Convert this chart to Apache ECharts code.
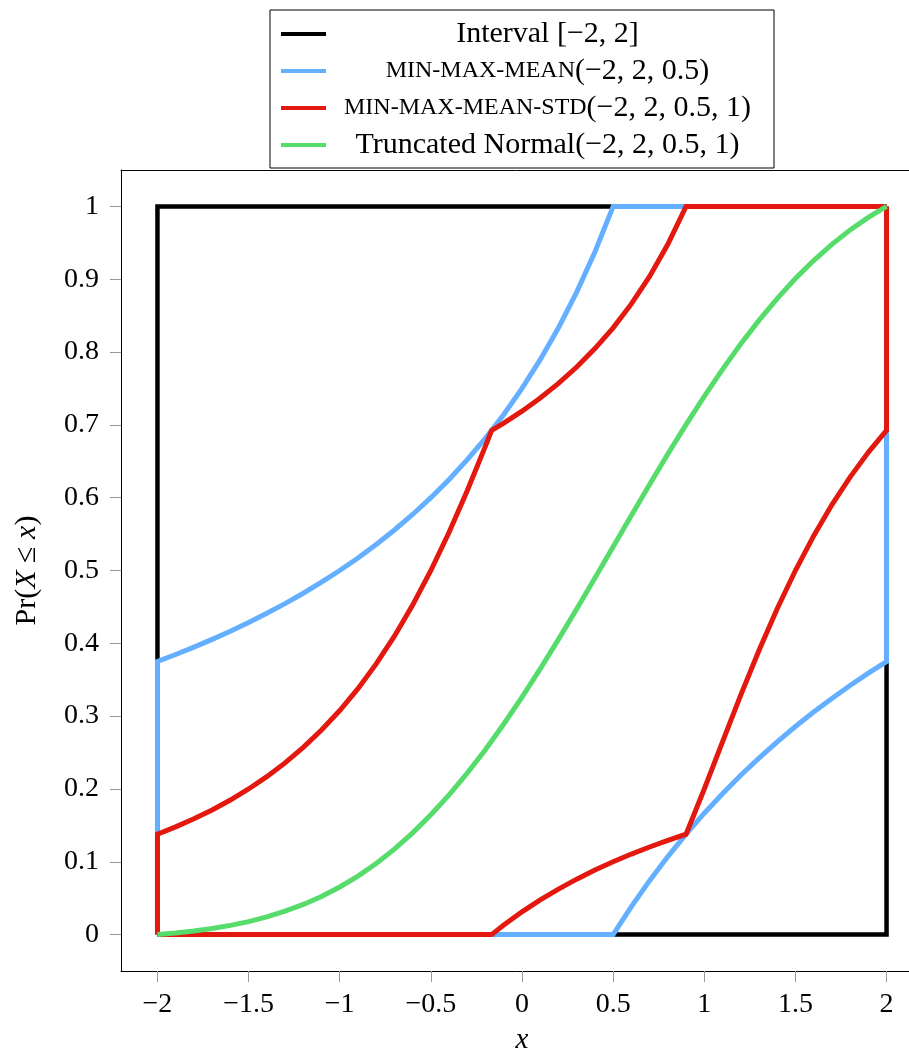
<!DOCTYPE html>
<html>
<head>
<meta charset="utf-8">
<script src="https://cdn.jsdelivr.net/npm/echarts@6/dist/echarts.min.js"></script>
<style>
  html, body { margin: 0; padding: 0; background: #fff; }
  #main { width: 909px; height: 1049px; }
</style>
</head>
<body>
<div id="main"></div>
<script>
// tick positions
var xTicks = [-2, -1.5, -1, -0.5, 0, 0.5, 1, 1.5, 2];
var yTicks = [0, 0.1, 0.2, 0.3, 0.4, 0.5, 0.6, 0.7, 0.8, 0.9, 1];

// Interval [-2, 2] (upper / lower CDF bounds)
var intervalUpper = [[-2, 0], [-2, 1], [2, 1]];
var intervalLower = [[-2, 0], [2, 0], [2, 1]];

// min-max-mean(-2, 2, 0.5)
var mmmUpper = [
    [-2, 0], [-2, 0.375], [-1.9, 0.3846], [-1.8, 0.3947], [-1.7, 0.4054], [-1.6, 0.4167],
    [-1.5, 0.4286], [-1.4, 0.4412], [-1.3, 0.4545], [-1.2, 0.4688], [-1.1, 0.4839],
    [-1, 0.5], [-0.9, 0.5172], [-0.8, 0.5357], [-0.7, 0.5556], [-0.6, 0.5769],
    [-0.5, 0.6], [-0.4, 0.625], [-0.3, 0.6522], [-0.2, 0.6818], [-0.1, 0.7143],
    [0, 0.75], [0.1, 0.7895], [0.2, 0.8333], [0.3, 0.8824], [0.4, 0.9375],
    [0.5, 1], [2, 1]
];
var mmmLower = [
    [-2, 0], [0.5, 0], [0.6, 0.0385], [0.7, 0.0741], [0.8, 0.1071], [0.9, 0.1379],
    [1, 0.1667], [1.1, 0.1935], [1.2, 0.2188], [1.3, 0.2424], [1.4, 0.2647],
    [1.5, 0.2857], [1.6, 0.3056], [1.7, 0.3243], [1.8, 0.3421], [1.9, 0.359],
    [2, 0.375], [2, 1]
];

// min-max-mean-std(-2, 2, 0.5, 1)
var mmmsUpper = [
    [-2, 0], [-2, 0.1379], [-1.9, 0.1479], [-1.8, 0.159], [-1.7, 0.1712], [-1.6, 0.1848],
    [-1.5, 0.2], [-1.4, 0.2169], [-1.3, 0.2358], [-1.2, 0.2571], [-1.1, 0.2809],
    [-1, 0.3077], [-0.9, 0.3378], [-0.8, 0.3717], [-0.7, 0.4098], [-0.6, 0.4525],
    [-0.5, 0.5], [-0.4, 0.5525], [-0.3, 0.6098], [-0.2, 0.6711], [-0.1667, 0.6923],
    [-0.1, 0.7024], [0, 0.7188], [0.1, 0.7368], [0.2, 0.7569], [0.3, 0.7794],
    [0.4, 0.8047], [0.5, 0.8333], [0.6, 0.8661], [0.7, 0.9038], [0.8, 0.9479],
    [0.9, 1], [2, 1]
];
var mmmsLower = [
    [-2, 0], [-0.1667, 0], [-0.1, 0.0132], [0, 0.0313], [0.1, 0.0476], [0.2, 0.0625],
    [0.3, 0.0761], [0.4, 0.0886], [0.5, 0.1], [0.6, 0.1106], [0.7, 0.1203],
    [0.8, 0.1294], [0.9, 0.1379], [1, 0.2], [1.1, 0.2647], [1.2, 0.3289],
    [1.3, 0.3902], [1.4, 0.4475], [1.5, 0.5], [1.6, 0.5475], [1.7, 0.5902],
    [1.8, 0.6283], [1.9, 0.6622], [2, 0.6923], [2, 1]
];

// Truncated Normal(-2, 2, 0.5, 1)
var truncNormal = [
    [-2, 0], [-1.9, 0.0021], [-1.8, 0.0049], [-1.7, 0.0083], [-1.6, 0.0126],
    [-1.5, 0.0178], [-1.4, 0.0243], [-1.3, 0.0321], [-1.2, 0.0414], [-1.1, 0.0524],
    [-1, 0.0654], [-0.9, 0.0804], [-0.8, 0.0977], [-0.7, 0.1174], [-0.6, 0.1397],
    [-0.5, 0.1645], [-0.4, 0.1919], [-0.3, 0.2219], [-0.2, 0.2543], [-0.1, 0.2892],
    [0, 0.3261], [0.1, 0.365], [0.2, 0.4055], [0.3, 0.4472], [0.4, 0.4897],
    [0.5, 0.5327], [0.6, 0.5756], [0.7, 0.6182], [0.8, 0.6599], [0.9, 0.7003],
    [1, 0.7392], [1.1, 0.7762], [1.2, 0.811], [1.3, 0.8435], [1.4, 0.8735],
    [1.5, 0.9009], [1.6, 0.9257], [1.7, 0.9479], [1.8, 0.9676], [1.9, 0.985],
    [2, 1]
];

// legend labels: [small caps part, normal part]
var legendNames = [
    'Interval [−2, 2]',
    'min-max-mean(−2, 2, 0.5)',
    'min-max-mean-std(−2, 2, 0.5, 1)',
    'Truncated Normal(−2, 2, 0.5, 1)'
];
var legendParts = [
    ['', 'Interval [−2, 2]'],
    ['MIN-MAX-MEAN', '(−2, 2, 0.5)'],
    ['MIN-MAX-MEAN-STD', '(−2, 2, 0.5, 1)'],
    ['', 'Truncated Normal(−2, 2, 0.5, 1)']
];

var serif = "'Liberation Serif', 'DejaVu Serif', serif";
var legendSize = 30, capsSize = 24, legendTextW = 433;

// measure text so each legend label can be centred in its column
var measureCtx = document.createElement('canvas').getContext('2d');
function textW(str, size) {
    if (!str) return 0;
    measureCtx.font = size + 'px ' + serif;
    return measureCtx.measureText(str).width;
}

var legendRich = {
    n: { fontSize: legendSize, fontFamily: serif, color: '#000', lineHeight: 30 },
    s: { fontSize: capsSize, fontFamily: serif, color: '#000', lineHeight: 30 }
};
var legendText = {};
legendNames.forEach(function (name, i) {
    var parts = legendParts[i];
    var w = textW(parts[0], capsSize) + textW(parts[1], legendSize);
    var pad = Math.max(0, (legendTextW - w) / 2);
    legendRich['pl' + i] = { width: pad, lineHeight: 30, fontSize: legendSize, fontFamily: serif };
    legendRich['pr' + i] = { width: pad, lineHeight: 30, fontSize: legendSize, fontFamily: serif };
    var str = '{pl' + i + '|\u00a0}';
    if (parts[0]) str += '{s|' + parts[0] + '}';
    str += '{n|' + parts[1] + '}';
    str += '{pr' + i + '|\u00a0}';
    legendText[name] = str;
});

function fmtNum(v) {
    return v < 0 ? '−' + Math.abs(v) : String(v);
}

function line(name, color, data, width) {
    return {
        name: name,
        type: 'line',
        data: data,
        symbol: 'none',
        lineStyle: { color: color, width: width, join: 'miter' },
        itemStyle: { color: color },
        emphasis: { disabled: true }
    };
}

var frameLine = { show: true, onZero: false, lineStyle: { color: '#000', width: 1 } };

var chart = echarts.init(document.getElementById('main'));
var option = {
    animation: false,
    backgroundColor: '#fff',
    grid: {
        left: 121, top: 170, width: 802, height: 801,
        outerBoundsMode: 'none',
        containLabel: false,
        show: false
    },
    legend: {
        orient: 'vertical',
        left: 270, top: 10,
        padding: [9, 10, 8, 11],
        icon: 'rect',
        itemWidth: 45, itemHeight: 4, itemGap: 7, itemTextGap: 5,
        borderColor: '#000', borderWidth: 1,
        selectedMode: false,
        formatter: function (name) { return legendText[name]; },
        textStyle: {
            color: '#000',
            fontFamily: serif,
            rich: legendRich
        }
    },
    xAxis: [{
        type: 'value',
        position: 'bottom',
        min: -2.2, max: 2.2,
        axisLine: frameLine,
        splitLine: { show: false },
        axisTick: { show: true, length: 11, customValues: xTicks, lineStyle: { color: '#999' } },
        axisLabel: {
            customValues: xTicks, margin: 20, formatter: fmtNum,
            color: '#000', fontSize: 28, fontFamily: serif
        },
        name: '{i|x}',
        nameLocation: 'middle',
        nameGap: 55,
        nameTextStyle: {
            rich: { i: { fontSize: 29, fontStyle: 'italic', fontFamily: serif, color: '#000' } }
        }
    }, {
        // top frame line only
        type: 'value',
        position: 'top',
        min: -2.2, max: 2.2,
        axisLine: frameLine,
        splitLine: { show: false },
        axisTick: { show: false },
        axisLabel: { show: false }
    }],
    yAxis: {
        type: 'value',
        min: -0.05, max: 1.05,
        axisLine: frameLine,
        splitLine: { show: false },
        axisTick: { show: true, length: 11, customValues: yTicks, lineStyle: { color: '#999' } },
        axisLabel: {
            customValues: yTicks, margin: 22, formatter: fmtNum,
            color: '#000', fontSize: 28, fontFamily: serif
        },
        name: '{n|Pr(}{i|X}{n| ≤ }{i|x}{n|)}',
        nameLocation: 'middle',
        nameGap: 79,
        nameRotate: 90,
        nameTextStyle: {
            rich: {
                n: { fontSize: 30, fontFamily: serif, color: '#000' },
                i: { fontSize: 30, fontStyle: 'italic', fontFamily: serif, color: '#000' }
            }
        }
    },
    series: [
        line(legendNames[0], '#000000', intervalUpper, 4.5),
        line(legendNames[0], '#000000', intervalLower, 4.5),
        line(legendNames[1], '#64afff', mmmUpper, 5),
        line(legendNames[1], '#64afff', mmmLower, 5),
        line(legendNames[2], '#e3180e', mmmsUpper, 5),
        line(legendNames[2], '#e3180e', mmmsLower, 5),
        line(legendNames[3], '#55dc6a', truncNormal, 5)
    ]
};
chart.setOption(option);
</script>
</body>
</html>
